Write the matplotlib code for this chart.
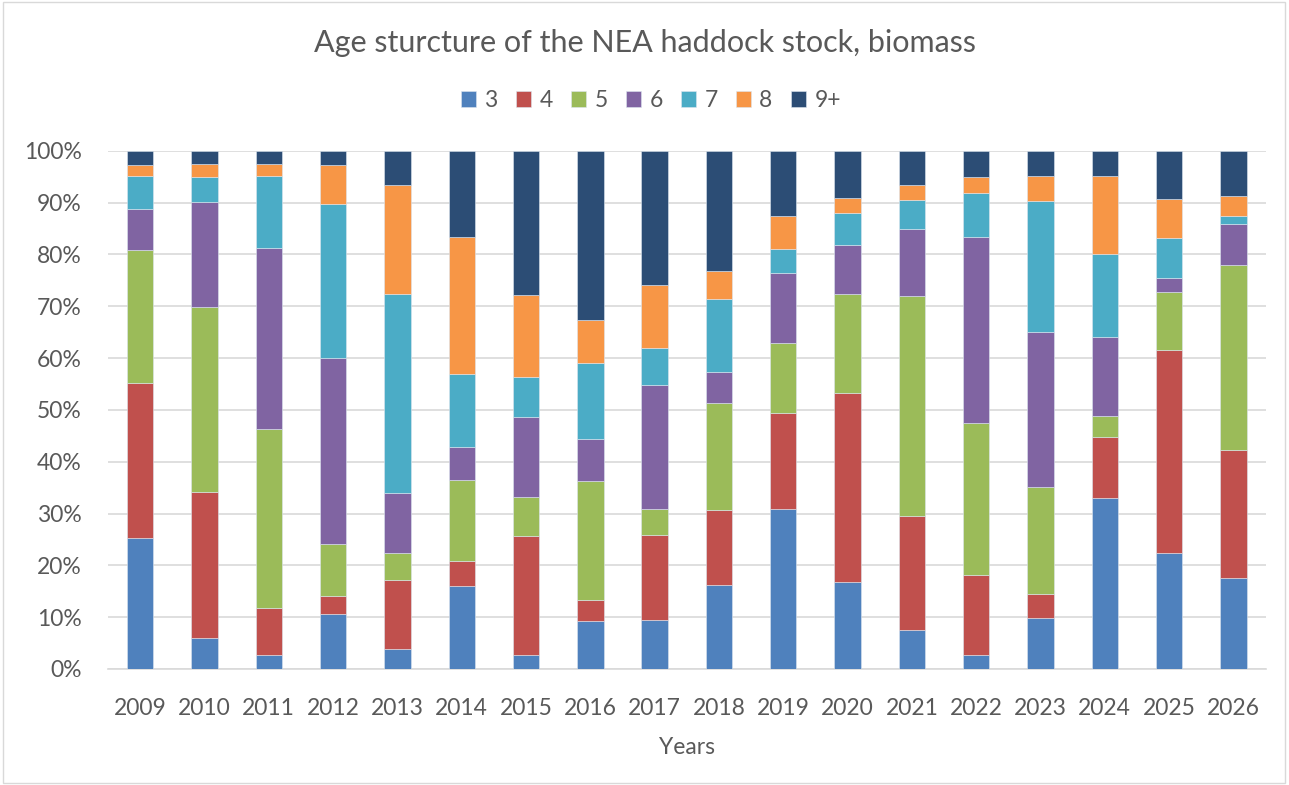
import matplotlib.pyplot as plt
import numpy as np
from matplotlib.patches import Rectangle
from matplotlib.ticker import PercentFormatter

plt.rcParams['font.family'] = ['Lato', 'DejaVu Sans']

years = [str(y) for y in range(2009, 2027)]
ages = ['3', '4', '5', '6', '7', '8', '9+']
colors = ['#4F81BD', '#C0504D', '#9BBB59', '#8064A2', '#4BACC6', '#F79646', '#2C4D75']

# share of biomass (%) by age group, per year
age3 = [25.3, 6.0, 2.7, 10.7, 3.9, 16.1, 2.7, 9.3, 9.5, 16.2, 30.9, 16.8, 7.5, 2.7, 9.9, 33.0, 22.3, 17.5]
age4 = [29.9, 28.2, 9.0, 3.4, 13.3, 4.7, 23.0, 4.0, 16.3, 14.4, 18.6, 36.5, 22.0, 15.5, 4.6, 11.7, 39.3, 24.8]
age5 = [25.7, 35.7, 34.7, 10.1, 5.1, 15.6, 7.5, 22.9, 5.0, 20.8, 13.4, 19.0, 42.4, 29.3, 20.6, 4.1, 11.1, 35.6]
age6 = [7.8, 20.3, 34.9, 35.9, 11.6, 6.5, 15.5, 8.1, 24.0, 5.9, 13.6, 9.6, 13.0, 35.9, 30.0, 15.3, 2.8, 8.0]
age7 = [6.4, 4.7, 13.8, 29.6, 38.4, 14.0, 7.7, 14.7, 7.2, 14.2, 4.6, 6.2, 5.7, 8.5, 25.2, 16.0, 7.7, 1.5]
age8 = [2.1, 2.6, 2.4, 7.6, 21.1, 26.4, 15.7, 8.4, 12.2, 5.3, 6.4, 2.8, 2.9, 3.0, 4.9, 15.0, 7.5, 3.9]
age9 = [2.8, 2.5, 2.5, 2.7, 6.6, 16.7, 27.9, 32.6, 25.8, 23.2, 12.5, 9.1, 6.5, 5.1, 4.8, 4.9, 9.3, 8.7]

series = [age3, age4, age5, age6, age7, age8, age9]
data = np.array(series, dtype=float)
data = data / data.sum(axis=0) * 100

fig = plt.figure(figsize=(12.89, 7.85), dpi=100)
ax = fig.add_axes([0.0838, 0.1478, 0.898, 0.66])

x = np.arange(len(years))
bottom = np.zeros(len(years))
for vals, name, c in zip(data, ages, colors):
    ax.bar(x, vals, 0.41, bottom=bottom, color=c, label=name,
           edgecolor='#DDE6F0', linewidth=0.4, zorder=3)
    bottom += vals

ax.set_ylim(0, 100)
ax.set_xlim(-0.5, len(years) - 0.5)
ax.set_yticks(np.arange(0, 101, 10))
ax.yaxis.set_major_formatter(PercentFormatter(decimals=0))
ax.set_xticks(x)
ax.set_xticklabels(years)
ax.grid(axis='y', color='#D9D9D9', linewidth=1.2, zorder=0)
for s in ['top', 'right', 'left']:
    ax.spines[s].set_visible(False)
ax.spines['bottom'].set_color('#D9D9D9')
ax.spines['bottom'].set_linewidth(1.2)
ax.tick_params(length=0, labelsize=16.5, colors='#595959')
ax.tick_params(axis='x', pad=21)
ax.tick_params(axis='y', pad=19)

ax.set_xlabel('Years', fontsize=16.5, color='#595959', labelpad=13)
fig.text(0.5, 0.945, 'Age sturcture of the NEA haddock stock, biomass',
         ha='center', va='center', fontsize=22, color='#595959')
fig.legend(loc='center', bbox_to_anchor=(0.505, 0.872), ncol=7, frameon=False,
           fontsize=16.5, handlelength=0.66, handleheight=0.66,
           handletextpad=0.36, columnspacing=0.8, labelcolor='#595959')

fig.patches.append(Rectangle((0.002, 0.003), 0.995, 0.994, transform=fig.transFigure,
                             fill=False, edgecolor='#D9D9D9', linewidth=1))

fig.savefig('out.png', dpi=100)
